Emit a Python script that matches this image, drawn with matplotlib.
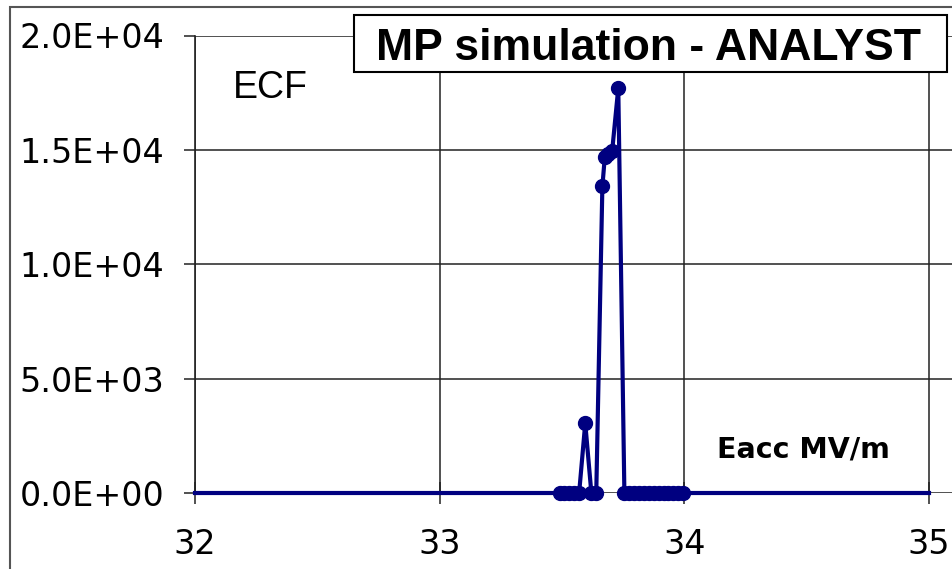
import matplotlib
matplotlib.use('Agg')
import matplotlib.pyplot as plt
from matplotlib.patches import Rectangle

# ECF vs Eacc (MV/m); end points at 32 and 35 carry the line but no marker
eacc = [32.0,
        33.49, 33.51, 33.53, 33.55, 33.57, 33.595, 33.62, 33.64,
        33.665, 33.675, 33.69, 33.705, 33.73,
        33.755, 33.775, 33.795, 33.815, 33.835, 33.855, 33.875,
        33.895, 33.915, 33.935, 33.955, 33.975, 33.995,
        35.0]
ecf = [0,
       0, 0, 0, 0, 0, 3050, 0, 0,
       13400, 14700, 14800, 14950, 17700,
       0, 0, 0, 0, 0, 0, 0,
       0, 0, 0, 0, 0, 0,
       0]

x_ticks = [32, 33, 34, 35]
y_ticks = [0, 5000, 10000, 15000, 20000]
y_labels = ['0.0E+00', '5.0E+03', '1.0E+04', '1.5E+04', '2.0E+04']

W, H = 952, 569
fig = plt.figure(figsize=(W / 100, H / 100), dpi=100)
ax = fig.add_axes([195 / W, 1 - 493 / H, 1 - 195 / W, (493 - 35.5) / H])

# outer frame of the original chart (only its left and top edges are visible)
fig.patches.append(Rectangle((10 / W, -0.2), 1.5, 1.2 - 7 / H, transform=fig.transFigure,
                             fill=False, edgecolor='#555555', linewidth=1.5))

ax.plot(eacc, ecf, color='#000080', linewidth=3, marker='o', markersize=10,
        markevery=list(range(1, len(eacc) - 1)), zorder=3, clip_on=False)

ax.set_xlim(32, 35.094)
ax.set_ylim(0, 20000)
ax.set_xticks(x_ticks)
ax.set_xticklabels([str(t) for t in x_ticks])
ax.set_yticks(y_ticks)
ax.set_yticklabels(y_labels)

ax.grid(True, color='#222222', linewidth=1.1, zorder=0)
ax.set_axisbelow(True)
for side in ['top', 'right', 'bottom']:
    ax.spines[side].set_visible(False)
ax.spines['left'].set_color('#222222')
ax.spines['left'].set_linewidth(1.2)

ax.tick_params(axis='y', direction='out', length=8, width=1.1, color='#222222', pad=14,
               labelsize=24, labelfontfamily='DejaVu Sans')
ax.tick_params(axis='x', direction='inout', length=16, width=1.1, color='#222222', pad=17,
               labelsize=24, labelfontfamily='DejaVu Sans')

fig.text(233 / W, 1 - 98 / H, 'ECF', fontsize=27, family='Liberation Sans', va='baseline')
fig.text(717 / W, 1 - 458 / H, 'Eacc MV/m', fontsize=20.5, family='DejaVu Sans',
         fontweight='bold', va='baseline')

fig.patches.append(Rectangle((354 / W, 1 - 71.5 / H), (947 - 354) / W, 56.5 / H,
                             transform=fig.transFigure, facecolor='white',
                             edgecolor='black', linewidth=1.5, zorder=5))
fig.text(376 / W, 1 - 60 / H, 'MP simulation - ANALYST', fontsize=32,
         family='Liberation Sans', fontweight='bold', va='baseline', zorder=6)

fig.savefig('out.png', dpi=100)
